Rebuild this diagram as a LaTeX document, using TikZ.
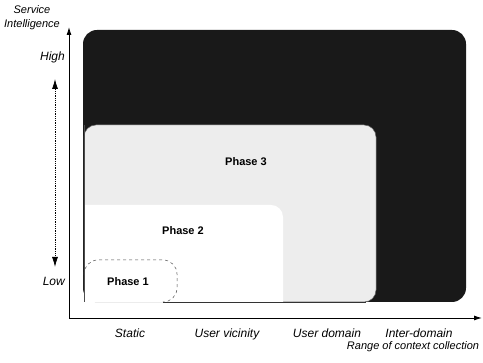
\documentclass[tikz,border=0pt]{standalone}
\usepackage{fontspec}
\setmainfont{Liberation Sans}
\usetikzlibrary{arrows.meta}

\begin{document}
\begin{tikzpicture}[x=1pt, y=1pt,
  axislabel/.style={font=\fontsize{12}{14}\selectfont\itshape, anchor=base, inner sep=0pt},
  smalllabel/.style={font=\fontsize{11}{12}\selectfont\itshape, anchor=base, inner sep=0pt},
  phaselabel/.style={font=\fontsize{11}{13}\selectfont\bfseries},
  axisline/.style={line width=0.9pt, -{Latex[length=8pt,width=5pt]}}]

\useasboundingbox (0,0) rectangle (483,363);

% phase regions, largest first
\fill[black!90, rounded corners=14pt] (83,61) rectangle (466,333);
\filldraw[fill=black!7, draw=black!60, line width=0.5pt, rounded corners=12pt] (84,61) rectangle (376,238);
\fill[white] (84,61) -- (84,158) -- (271,158) arc[start angle=90, end angle=0, radius=12] -- (283,61) -- cycle;
\draw[black!70, line width=0.5pt] (84,61) -- (84,238);
\draw[black!80, line width=0.6pt] (163,61) -- (366,61);
\draw[black!70, dashed, line width=0.5pt, rounded corners=14pt] (84,88) -- (84,103) -- (177,103) -- (177,61) -- (163,61);

\node[phaselabel] (p3) at (246,201) {Phase 3};
\node[phaselabel] (p2) at (183,132) {Phase 2};
\node[phaselabel] (p1) at (128,81) {Phase 1};

% axes
\coordinate (O) at (69,45);
\coordinate (ytop) at (69,336);
\coordinate (xend) at (482,45);
\draw[axisline] (O) -- (ytop);
\draw[axisline] (O) -- (xend);

% dotted double arrow
\coordinate (dlow) at (55,96);
\coordinate (dhigh) at (55,284);
\draw[densely dotted, line width=0.8pt, {Latex[length=10pt,width=6pt]}-{Latex[length=10pt,width=6pt]}] (dlow) -- (dhigh);

\node[smalllabel] (serv) at (32,349) {Service};
\node[smalllabel] (intel) at (32,335) {Intelligence};
\node[axislabel, anchor=base east] (high) at (65,302) {High};
\node[axislabel, anchor=base east] (low) at (65,77) {Low};

\node[axislabel] (static) at (130,25) {Static};
\node[axislabel] (vicin) at (227,25) {User vicinity};
\node[axislabel] (udom) at (327,25) {User domain};
\node[axislabel] (inter) at (419,25) {Inter-domain};
\node[smalllabel] (range) at (413,13) {Range of context collection};

\end{tikzpicture}
\end{document}
